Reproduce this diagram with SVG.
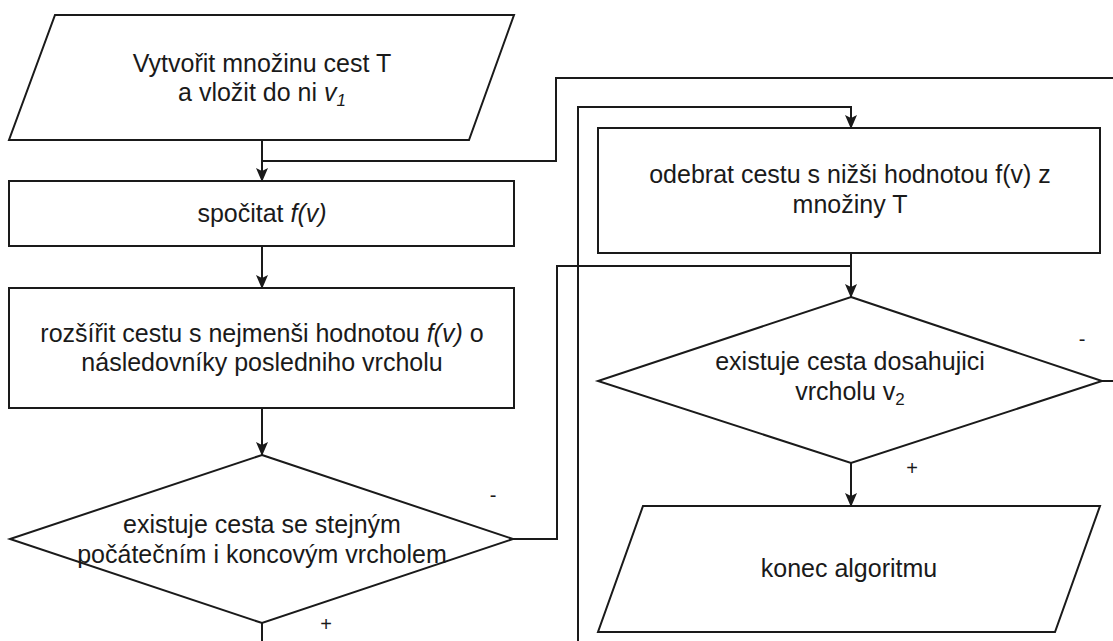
<svg xmlns="http://www.w3.org/2000/svg" width="1113" height="641" viewBox="0 0 1113 641">
  <style>
    .shape { fill: #ffffff; stroke: #1a1a1a; stroke-width: 2; }
    .edge { fill: none; stroke: #1a1a1a; stroke-width: 2; }
    .label { font-family: "Liberation Sans", Arial, sans-serif; font-size: 25px; fill: #1a1a1a; text-anchor: middle; }
    .mark { font-family: "Liberation Sans", Arial, sans-serif; font-size: 20px; fill: #1a1a1a; text-anchor: middle; }
    .it { font-style: italic; }
  </style>
  <defs>
    <marker id="arrow" viewBox="0 0 14 12" refX="13" refY="6" markerWidth="14" markerHeight="12" markerUnits="userSpaceOnUse" orient="auto">
      <path d="M0,0 L14,6 L0,12 L3,6 Z" fill="#1a1a1a"/>
    </marker>
  </defs>
  <rect width="1113" height="641" fill="#ffffff"/>

  <!-- connectors -->
  <g id="connectors">
    <path class="edge" d="M262,140 L262,181" marker-end="url(#arrow)"/>
    <path class="edge" d="M262,161 L556,161 L556,78 L1113,78"/>
    <path class="edge" d="M262,246 L262,288" marker-end="url(#arrow)"/>
    <path class="edge" d="M262,408 L262,455" marker-end="url(#arrow)"/>
    <path class="edge" d="M262,623 L262,641"/>
    <path class="edge" d="M513,539 L557,539 L557,266 L851,266"/>
    <path class="edge" d="M578,641 L578,107 L851,107 L851,128" marker-end="url(#arrow)"/>
    <path class="edge" d="M851,253 L851,297" marker-end="url(#arrow)"/>
    <path class="edge" d="M1102,381 L1113,381"/>
    <path class="edge" d="M851,463 L851,506" marker-end="url(#arrow)"/>
  </g>

  <!-- left column -->
  <g id="create-set">
    <polygon class="shape" points="55,15 514,15 469,140 9,140"/>
    <text class="label" x="262" y="72">Vytvořit množinu cest T</text>
    <text class="label" x="262" y="101">a vložit do ni <tspan class="it">v</tspan><tspan class="it" font-size="17" dy="5">1</tspan></text>
  </g>

  <g id="compute">
    <rect class="shape" x="9" y="181" width="505" height="65"/>
    <text class="label" x="262" y="222">spočitat <tspan class="it">f(v)</tspan></text>
  </g>

  <g id="extend">
    <rect class="shape" x="9" y="288" width="505" height="120"/>
    <text class="label" x="262" y="342">rozšířit cestu s nejmenši hodnotou <tspan class="it">f(v)</tspan> o</text>
    <text class="label" x="262" y="371">následovníky posledniho vrcholu</text>
  </g>

  <g id="same-ends">
    <polygon class="shape" points="262,455 513,539 262,623 10,539"/>
    <text class="label" x="262" y="533">existuje cesta se stejným</text>
    <text class="label" x="262" y="563">počátečním i koncovým vrcholem</text>
  </g>

  <!-- right column -->
  <g id="remove">
    <rect class="shape" x="598" y="128" width="502" height="125"/>
    <text class="label" x="850" y="183">odebrat cestu s nižši hodnotou f(v) z</text>
    <text class="label" x="850" y="213">množiny T</text>
  </g>

  <g id="reach-target">
    <polygon class="shape" points="851,297 1102,381 851,463 598,381"/>
    <text class="label" x="850" y="370">existuje cesta dosahujici</text>
    <text class="label" x="850" y="400">vrcholu v<tspan font-size="17" dy="5">2</tspan></text>
  </g>

  <g id="end">
    <polygon class="shape" points="643,506 1100,506 1055,632 598,632"/>
    <text class="label" x="849" y="577">konec algoritmu</text>
  </g>

  <!-- branch marks -->
  <g id="marks">
    <text class="mark" x="493" y="502">-</text>
    <text class="mark" x="326" y="631">+</text>
    <text class="mark" x="1082" y="346">-</text>
    <text class="mark" x="912" y="475">+</text>
  </g>
</svg>
